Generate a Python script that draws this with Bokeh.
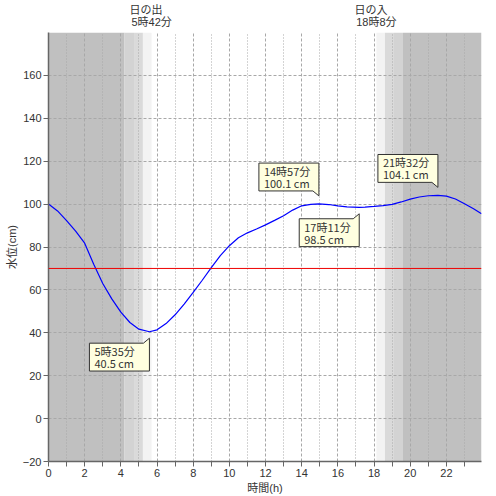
from bokeh.core.properties import value
from bokeh.embed import file_html
from bokeh.models import FixedTicker, LinearAxis, Span
from bokeh.plotting import figure
from bokeh.resources import INLINE

FONT = "Noto Sans CJK JP"
AXIS_FONT = "'Liberation Sans', 'Noto Sans CJK JP'"

# water level through the day (hour, cm)
hours = [0, 0.5, 1, 1.5, 2, 2.5, 3, 3.5, 4, 4.5, 5, 5.58, 6, 6.5, 7, 7.5,
         8, 8.5, 9, 9.5, 10, 10.5, 11, 11.5, 12, 12.5, 13, 13.5, 14, 14.5,
         14.95, 15.5, 16, 16.5, 17.18, 17.5, 18, 18.5, 19, 19.5, 20, 20.5,
         21, 21.53, 22, 22.5, 23, 23.5, 23.94]
levels = [100.0, 96.8, 92.3, 87.4, 81.8, 72.0, 63.0, 55.8, 49.6, 44.8, 41.7,
          40.5, 41.4, 44.3, 48.4, 53.4, 58.8, 64.5, 70.4, 76.0, 80.6, 84.3,
          86.6, 88.4, 90.3, 92.4, 94.6, 97.2, 99.2, 99.9, 100.1, 99.8, 99.2,
          98.7, 98.5, 98.6, 98.9, 99.3, 99.9, 101.0, 102.3, 103.3, 103.9,
          104.1, 103.7, 102.4, 100.2, 97.8, 95.5]

# night and twilight bands
band_start = [0, 4.2, 4.73, 5.22, 18.13, 18.6, 19.1, 19.6]
band_end = [4.2, 4.73, 5.22, 5.7, 18.6, 19.1, 19.6, 23.94]
band_phase = ["night", "astro", "nautical", "civil",
              "civil", "nautical", "astro", "night"]

sun_hours = [5.7, 18.13]
sun_labels = ["日の出\u3000\n5時42分", "日の入\u3000\n18時8分"]

# highs / lows
ext_hours = [5.58, 14.95, 17.18, 21.53]
ext_levels = [40.5, 100.1, 98.5, 104.1]
ext_time_text = ["5時35分", "14時57分", "17時11分", "21時32分"]
ext_level_text = ["40.5 cm", "100.1 cm", "98.5 cm", "104.1 cm"]
ext_side = ["below", "above", "below", "above"]

warning_level = 70

x_ticks = [0, 2, 4, 6, 8, 10, 12, 14, 16, 18, 20, 22]
x_minor = [1, 3, 5, 7, 9, 11, 13, 15, 17, 19, 21, 23]
y_ticks = [-20, 0, 20, 40, 60, 80, 100, 120, 140, 160]

shade = {"night": "#c0c0c0", "astro": "#d3d3d3",
         "nautical": "#dadada", "civil": "#f3f3f3"}

X0, X1 = 0, 23.94
Y0, Y1 = -20, 180
FW, FH = 433, 431  # frame size in px
XPX = (X1 - X0) / FW
YPX = (Y1 - Y0) / FH

p = figure(width=496, height=496, x_range=(X0, X1), y_range=(Y0, Y1),
           output_backend="svg", toolbar_location=None,
           min_border_left=48, min_border_right=15,
           min_border_top=32, min_border_bottom=33)
p.outline_line_color = None
p.background_fill_color = "white"

p.quad(left=band_start, right=band_end, bottom=Y0, top=Y1,
       fill_color=[shade[ph] for ph in band_phase], line_color=None,
       level="underlay")

# sunrise / sunset captions on a bare axis above the plot
sun_axis = LinearAxis(ticker=FixedTicker(ticks=sun_hours, minor_ticks=[]),
                      major_label_overrides=dict(zip(sun_hours, sun_labels)))
p.add_layout(sun_axis, "above")
sun_axis.axis_line_color = None
sun_axis.major_tick_line_color = None
sun_axis.minor_tick_line_color = None
sun_axis.major_tick_out = 0
sun_axis.major_label_standoff = 5

xax = p.below[0]
yax = p.left[0]
xax.axis_label = "時間(h)"
yax.axis_label = "水位(cm)"
xax.ticker = FixedTicker(ticks=x_ticks, minor_ticks=x_minor)
yax.ticker = FixedTicker(ticks=y_ticks, minor_ticks=[])
for ax in (xax, yax):
    ax.axis_label_text_font_style = "normal"
    ax.axis_label_text_font = AXIS_FONT
    ax.axis_label_text_font_size = "11px"
    ax.axis_label_text_color = "#333333"
    ax.axis_label_standoff = 2
    ax.axis_line_color = "#666666"
    ax.axis_line_width = 1.5
    ax.major_tick_line_color = "#666666"
    ax.minor_tick_line_color = "#666666"
    ax.major_tick_out = 5
    ax.major_tick_in = 0
    ax.minor_tick_out = 5
    ax.minor_tick_in = 0
    ax.major_label_standoff = 2
    ax.major_label_text_font = AXIS_FONT
for ax in (xax, yax, sun_axis):
    ax.major_label_text_font_size = "11px"
    ax.major_label_text_color = "#333333"
    ax.major_label_text_line_height = 1.0
sun_axis.major_label_text_font = AXIS_FONT

# even hours dashed, odd hours dotted
p.xgrid.grid_line_color = "#a8a8a8"
p.xgrid.grid_line_dash = "3 2"
p.xgrid.minor_grid_line_color = "#a8a8a8"
p.xgrid.minor_grid_line_dash = "1 2"
p.ygrid.grid_line_color = "#a8a8a8"
p.ygrid.grid_line_dash = "3 2"

p.add_layout(Span(location=warning_level, dimension="width",
                  line_color="#ee0000", line_width=1))

p.line(hours, levels, line_color="#0000ff", line_width=1.2)

# callout boxes
xs, ys, lefts, tops = [], [], [], []
for t, v, side in zip(ext_hours, ext_levels, ext_side):
    right = t
    left = t - 60 * XPX
    if side == "below":
        tip = v - 6.5 * YPX
        top = tip - 5 * YPX
        bottom = top - 28 * YPX
        xs.append([left, right - 6 * XPX, right, right, left])
        ys.append([top, top, tip, bottom, bottom])
    else:
        tip = v + 8 * YPX
        bottom = tip + 5 * YPX
        top = bottom + 28 * YPX
        xs.append([left, right, right, right - 6 * XPX, left])
        ys.append([top, top, tip, bottom, bottom])
    lefts.append(left)
    tops.append(top)

p.patches(xs, ys, fill_color="#ffffe0", line_color="#333333", line_width=1)
p.text(x=lefts, y=tops, text=ext_time_text, x_offset=5, y_offset=8,
       text_baseline="middle", text_font=value(FONT), text_font_size="11px",
       text_color="#333333")
p.text(x=lefts, y=tops, text=ext_level_text, x_offset=5, y_offset=20,
       text_baseline="middle", text_font=value(FONT), text_font_size="11px",
       text_color="#333333")

open("out.html", "w").write(file_html(p, INLINE))
